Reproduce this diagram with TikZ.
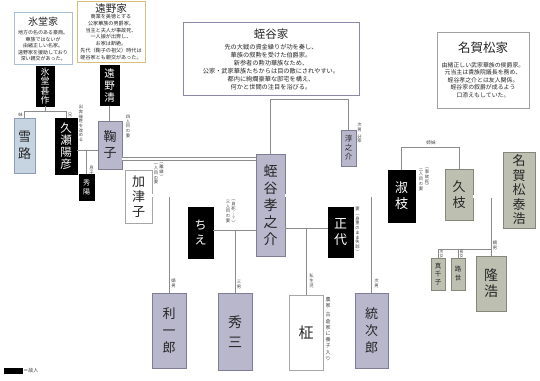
\documentclass[tikz,border=0pt]{standalone}
\usepackage{fontspec}
\newfontfamily\jp{Noto Sans CJK JP}
\definecolor{lavf}{HTML}{B8B7CC}
\definecolor{lavd}{HTML}{7E7D93}
\definecolor{bluf}{HTML}{C6D3E1}
\definecolor{blud}{HTML}{8D9CB2}
\definecolor{sagf}{HTML}{BDC0B1}
\definecolor{sagd}{HTML}{84887A}
\definecolor{linec}{HTML}{8C8C8C}
\definecolor{hybd}{HTML}{A9BFD6}
\definecolor{tobd}{HTML}{D8C07A}
\definecolor{hibd}{HTML}{8A8AA8}
\definecolor{nabd}{HTML}{A0A0A0}
\begin{document}
\begin{tikzpicture}[x=1pt,y=-1pt,
  every node/.style={font=\jp, inner sep=0pt, text=black!85},
  sz/.style 2 args={font=\jp\fontsize{#1}{#2}\selectfont},
  wh/.style 2 args={minimum width=#1pt, minimum height=#2pt},
  pbox/.style={draw, line width=0.6pt, align=center},
  dead/.style={pbox, fill=black, draw=black, text=white},
  lav/.style={pbox, fill=lavf, draw=lavd},
  blu/.style={pbox, fill=bluf, draw=blud},
  sag/.style={pbox, fill=sagf, draw=sagd},
  wht/.style={pbox, fill=white, draw=gray!70},
  fam/.style={draw, line width=0.9pt, fill=white},
  body/.style={anchor=north, align=center},
  note/.style={sz={4.3}{4.7}, align=center, anchor=north, text=black!75},
  link/.style={draw=linec, line width=0.6pt},
  wed/.style={draw=linec, line width=0.5pt, double=white, double distance=2.4pt}
]
\fill[white] (0,0) rectangle (540,380);
\useasboundingbox (0,0) rectangle (540,380);

% family boxes
\node[fam, draw=hybd, wh={58}{52}] (hyK) at (43,38) {};
\node[sz={10}{12}] (hyT) at (43,21.5) {氷堂家};
\node[body, sz={5}{6.5}] (hyB) at (43,30.5) {地方の名のある豪商。\\華族ではないが\\由緒正しい名家。\\遠野家を援助しており\\深い親交があった。};

\node[fam, draw=tobd, wh={68}{61}] (toK) at (111,31.5) {};
\node[sz={10.5}{12}] (toT) at (111,9) {遠野家};
\node[body, sz={5.1}{6.8}] (toB) at (111,14) {商業を美徳とする\\公家華族の男爵家。\\当主と夫人が事故死、\\一人娘が出奔し、\\お家は断絶。\\先代（鞠子の祖父）時代は\\蛭谷家とも親交があった。};

\node[fam, draw=hibd, wh={176}{73}] (hiK) at (271,58.5) {};
\node[sz={11.5}{13}] (hiT) at (271,34) {蛭谷家};
\node[body, sz={6.2}{8}] (hiB) at (271,43.9) {先の大戦の資金繰りが功を奏し、\\華族の叙勲を受けた伯爵家。\\新参者の勲功華族なため、\\公家・武家華族たちからは目の敵にされやすい。\\都内に絢爛豪華な邸宅を構え、\\何かと世間の注目を浴びる。};

\node[fam, draw=nabd, wh={92}{76}] (naK) at (483,70) {};
\node[sz={12.5}{14}] (naT) at (483,48) {名賀松家};
\node[body, sz={5.9}{7.6}] (naB) at (483,62) {由緒正しい武家華族の侯爵家。\\元当主は貴族院議長を務め、\\蛭谷孝之介とは友人関係。\\蛭谷家の叙爵が成るよう\\口添えもしていた。};

% persons
\node[dead, wh={18}{40}, sz={9}{9.4}] (jinsaku) at (45,86) {氷\\堂\\甚\\作};
\node[dead, wh={19}{40}, sz={10.5}{12}] (kiyoshi) at (109.5,85.5) {遠\\野\\清};
\node[blu, wh={21}{55}, sz={13}{17}] (yukiji) at (24.5,145.5) {雪\\路};
\node[dead, wh={22}{56}, sz={11.5}{12}] (haruhiko) at (66,146) {久\\瀬\\陽\\彦};
\node[lav, wh={24}{48}, sz={13}{16}] (mariko) at (110,145) {鞠\\子};
\node[dead, wh={15}{26}, sz={7}{9}] (hideharu) at (86.5,187) {秀\\陽};
\node[wht, wh={27}{53}, sz={13}{15}] (katsuko) at (138.5,196.5) {加\\津\\子};
\node[lav, wh={29}{102}, sz={14}{17}] (taka) at (270.5,205) {蛭\\谷\\孝\\之\\介};
\node[lav, wh={15}{36}, sz={7.5}{9}] (jun) at (348.5,148) {淳\\之\\介};
\node[dead, wh={25}{51}, sz={12}{15}] (chie) at (200.5,232.5) {ち\\え};
\node[dead, wh={25}{50}, sz={13}{16}] (masayo) at (340.5,232) {正\\代};
\node[dead, wh={27}{52}, sz={13}{16}] (yoshie) at (401.5,196) {淑\\枝};
\node[sag, wh={28}{51}, sz={13}{16}] (hisae) at (459,194.5) {久\\枝};
\node[sag, wh={32}{76}, sz={13}{14.5}] (yasu) at (519,190) {名\\賀\\松\\泰\\浩};
\node[sag, wh={14}{32}, sz={6.5}{8}] (machi) at (438,274) {真\\千\\子};
\node[sag, wh={14}{32}, sz={6.5}{9}] (michi) at (458,274) {路\\世};
\node[sag, wh={30}{55}, sz={14}{16}] (takahiro) at (491,283.5) {隆\\浩};
\node[lav, wh={34}{75}, sz={13}{17}] (riichi) at (169,330.5) {利\\一\\郎};
\node[lav, wh={34}{77}, sz={14}{20}] (shuzo) at (235,331.5) {秀\\三};
\node[wht, wh={34}{75}, sz={15}{17}] (masaki) at (306,332.5) {柾};
\node[lav, wh={33}{75}, sz={13}{17}] (tojiro) at (371.5,330.5) {統\\次\\郎};

% level coordinates
\coordinate (yA) at (0,111);
\coordinate (yB) at (0,150);
\coordinate (yC) at (0,159);
\coordinate (yD) at (0,195.5);
\coordinate (yDl) at (0,196.8);
\coordinate (yE) at (0,230);
\coordinate (yF) at (0,228);
\coordinate (yG) at (0,99);
\coordinate (yH) at (0,147);
\coordinate (yI) at (0,196.5);
\coordinate (yIl) at (0,197.8);
\coordinate (yJ) at (0,249);

% connectors
\draw[link] (jinsaku.south) -- (jinsaku.south |- yA);
\draw[link] (yukiji.north) -- (yukiji.north |- yA) -- (haruhiko.north |- yA) -- (haruhiko.north);
\draw[link] (kiyoshi.south) -- (kiyoshi.south |- mariko.north);
\draw[link] (haruhiko.east |- yB) -- (mariko.west |- yB);
\draw[link] (hideharu.north |- yB) -- (hideharu.north);
\draw[wed] (mariko.east |- yC) -- (taka.west |- yC);
\draw[wed] (katsuko.east |- yD) -- (taka.west |- yD);
\draw[wed] (taka.east |- yD) -- (yoshie.west |- yD);
\draw[link] (chie.east |- yE) -- (taka.west |- yE);
\draw[link] (taka.east |- yF) -- (masayo.west |- yF);
\draw[link] (riichi.north |- yDl) -- (riichi.north);
\draw[link] (shuzo.north |- yE) -- (shuzo.north);
\draw[link] (masaki.north |- yF) -- (masaki.north);
\draw[link] (tojiro.north |- yDl) -- (tojiro.north);
\draw[link] (taka.north) -- (taka.north |- yG) -- (jun.north |- yG) -- (jun.north);
\draw[link] (yoshie.north) -- (yoshie.north |- yH) -- (hisae.north |- yH) -- (hisae.north);
\draw[wed] (hisae.east |- yI) -- (yasu.west |- yI);
\draw[link] (takahiro.north |- yIl) -- (takahiro.north);
\draw[link] (machi.north) -- (machi.north |- yJ) -- (takahiro.north |- yJ);
\draw[link] (michi.north) -- (michi.north |- yJ);

% annotations
\node[note] (nImo) at (20.5,112.5) {妹};
\node[note] (nAni) at (70,112.5) {兄};
\node[note] (nShu) at (81,105) {出\\奔\\後\\姓\\を\\改\\め\\る};
\node[note] (nMus) at (91.5,166) {息\\子};
\node[note] (nMar) at (128,115) {四\\人\\目\\の\\妻};
\node[note] (nKa1) at (161.5,163) {︵\\離\\縁\\︶};
\node[note] (nKa2) at (156,163) {一\\人\\目\\の\\妻};
\node[note] (nCh1) at (233.5,200) {︵\\自\\死\\︙\\？\\︶};
\node[note] (nCh2) at (228,200) {三\\人\\目\\の\\妻};
\node[note] (nMa) at (357.5,207) {妻\\︵\\身\\重\\の\\ま\\ま\\失\\踪\\︶};
\node[note] (nYo1) at (427,168) {︵\\事\\故\\死\\︶};
\node[note] (nYo2) at (421,168) {二\\人\\目\\の\\妻};
\node[note] (nJun) at (359.5,123) {次\\男\\[2pt]分\\家};
\node[sz={4.6}{5}, text=black!75] (nShimai) at (431,143) {姉妹};
\node[note, sz={3.8}{4.1}] (nJijo) at (441.5,250.5) {次\\女};
\node[note, sz={3.8}{4.1}] (nChojo) at (461.5,250.5) {長\\女};
\node[note] (nTk) at (495,241) {嫡\\男};
\node[note] (nRi) at (173.5,279) {嫡\\男};
\node[note] (nSh) at (239,280) {三\\男};
\node[note] (nMk) at (311.5,274) {私\\生\\児};
\node[note] (nTo) at (376.5,279) {次\\男};
\node[note, sz={5}{6.2}] (nNoka) at (328,297) {農\\家\\[3pt]古\\倉\\家\\に\\養\\子\\入\\り};

% legend
\node[fill=black, minimum width=19pt, minimum height=6pt] (leg) at (13.5,371) {};
\node[sz={5}{6}, anchor=west, text=black!75] (legT) at (leg.east) {＝故人};
\end{tikzpicture}
\end{document}
